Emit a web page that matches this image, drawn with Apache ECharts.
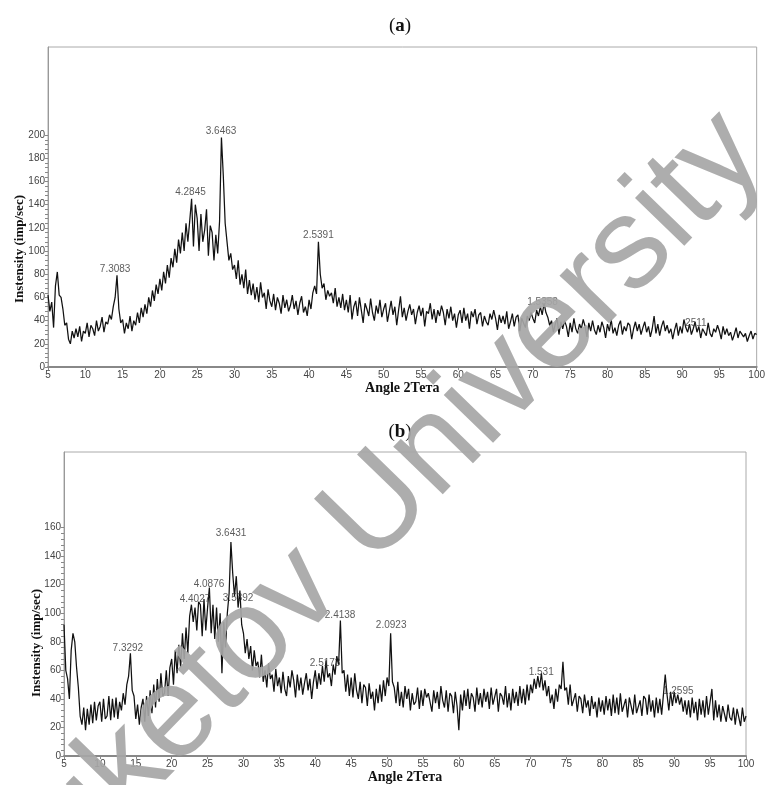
<!DOCTYPE html>
<html>
<head>
<meta charset="utf-8">
<script src="https://cdn.jsdelivr.net/npm/echarts@6/dist/echarts.min.js"></script>
<style>
  html, body { margin: 0; padding: 0; background: #fff; }
  #chart { width: 768px; height: 785px; }
</style>
</head>
<body>
<div id="chart"></div>
<script>
// scan grid: 2-theta from 5 to 100 deg, 0.25 deg step
const angleStart = 5;
const angleStep = 0.25;

// (a) intensity, 4 readings per degree, one row = 5 degrees
const intensityA = [
  62, 48, 56, 34,  70, 82, 62, 60,  50, 36, 38, 24,  20, 31, 25, 33,  26, 35, 22, 31,
  29, 38, 26, 36,  33, 27, 40, 31,  35, 43, 30, 39,  37, 45, 41, 52,  60, 79, 50, 38,
  41, 29, 38, 33,  44, 31, 40, 36,  47, 38, 51, 43,  54, 46, 60, 52,  66, 57, 71, 63,
  76, 66, 82, 72,  88, 77, 94, 86,  102, 90, 110, 98,  116, 100, 124, 108,  126, 145, 104, 140,
  128, 100, 132, 108,  118, 136, 96, 122,  116, 92, 114, 98,  126, 198, 165, 124,  124, 92, 98, 84,
  88, 76, 92, 71,  80, 68, 84, 63,  75, 62, 72, 58,  69, 56, 73, 60,  64, 50, 67, 57,
  52, 63, 49, 60,  55, 46, 62, 51,  58, 48, 53, 62,  50, 57, 45, 55,  61, 47, 52, 44,
  58, 50, 64, 70,  63, 108, 80, 68,  72, 58, 66, 61,  64, 55, 68, 52,  60, 51, 63, 49,
  58, 47, 62, 41,  52, 57, 44, 60,  49, 38, 55, 50,  44, 59, 47, 40,  53, 46, 58, 43,
  50, 55, 39, 48,  57, 45, 52, 36,  49, 61, 43, 51,  40, 48, 54, 45,  50, 37, 47, 53,
  44, 51, 35, 48,  46, 55, 41, 50,  38, 49, 44, 53,  47, 36, 50, 42,  52, 40, 46, 34,
  45, 49, 38, 51,  40, 46, 33, 48,  43, 50, 37, 45,  47, 35, 44, 39,  36, 46, 41, 49,
  42, 32, 45, 38,  44, 37, 48, 33,  39, 46, 35, 43,  45, 31, 42, 38,  34, 44, 40, 47,
  42, 38, 49, 44,  52, 45, 55, 47,  43, 36, 40, 30,  37, 42, 28, 39,  33, 40, 35, 26,
  38, 30, 42, 33,  29, 37, 33, 41,  35, 26, 38, 31,  40, 32, 28, 36,  30, 39, 34, 25,
  37, 31, 41, 29,  34, 27, 36, 40,  28, 35, 31, 38,  36, 24, 33, 39,  31, 37, 28, 34,
  39, 30, 35, 26,  33, 44, 29, 37,  27, 35, 40, 31,  36, 29, 33, 24,  32, 38, 27, 35,
  29, 41, 34, 30,  37, 28, 33, 39,  30, 35, 25, 33,  34, 27, 38, 29,  26, 33, 30, 36,
  31, 24, 35, 28,  33, 27, 30, 23,  28, 34, 25, 31,  32, 26, 29, 22,  27, 31, 24, 29,
  28
];

// (b) intensity, 4 readings per degree, one row = 5 degrees
const intensityB = [
  92, 60, 54, 40,  74, 86, 80, 62,  48, 28, 22, 34,  18, 33, 22, 36,  23, 38, 25, 35,
  38, 24, 40, 26,  28, 42, 25, 40,  27, 41, 26, 38,  32, 44, 36, 50,  56, 72, 46, 42,
  26, 36, 22, 34,  40, 24, 42, 28,  46, 30, 50, 34,  54, 38, 58, 42,  44, 60, 42, 62,
  68, 50, 74, 58,  78, 62, 86, 68,  90, 72, 98, 106,  94, 104, 88, 108,  106, 84, 110, 88,
  104, 118, 86, 106,  82, 104, 80, 100,  58, 94, 76, 100,  114, 150, 128, 112,  126, 104, 116, 92,
  86, 72, 82, 68,  77, 60, 74, 63,  66, 55, 71, 52,  60, 48, 65, 54,  57, 45, 61, 49,
  55, 44, 59, 47,  42, 56, 48, 60,  53, 41, 57, 46,  55, 43, 51, 58,  46, 54, 40, 52,
  60, 47, 58, 50,  63, 52, 67, 55,  58, 49, 64, 57,  70, 64, 95, 58,  60, 45, 57, 42,
  55, 41, 58, 46,  40, 52, 37, 50,  48, 35, 51, 40,  45, 32, 47, 37,  50, 38, 53, 42,
  55, 49, 86, 52,  48, 37, 52, 35,  45, 34, 49, 40,  47, 32, 44, 36,  38, 48, 33, 46,
  35, 47, 41, 44,  43, 31, 46, 37,  45, 33, 49, 39,  34, 46, 31, 44,  42, 30, 45, 35,
  18, 43, 32, 46,  35, 47, 33, 44,  41, 31, 48, 36,  44, 34, 47, 38,  45, 33, 48, 36,
  35, 47, 31, 44,  42, 36, 49, 34,  44, 32, 47, 37,  45, 35, 49, 37,  47, 36, 50, 39,
  50, 44, 54, 47,  56, 48, 58, 46,  53, 42, 49, 37,  43, 33, 47, 38,  50, 47, 66, 46,
  48, 36, 50, 35,  34, 44, 31, 42,  40, 30, 43, 34,  39, 28, 42, 33,  38, 27, 41, 31,
  39, 29, 42, 32,  40, 28, 43, 30,  41, 29, 44, 31,  31, 40, 27, 41,  40, 29, 43, 30,
  31, 39, 28, 42,  40, 29, 43, 31,  39, 27, 41, 30,  40, 29, 43, 57,  43, 32, 45, 35,
  45, 37, 43, 36,  41, 31, 39, 29,  39, 27, 41, 30,  38, 25, 40, 29,  39, 27, 42, 29,
  38, 47, 25, 39,  27, 36, 24, 35,  34, 24, 36, 27,  25, 34, 22, 33,  32, 21, 34, 24,
  28
];

// peak d-spacing labels, placed at (angle, intensity) of the label centre
const peakLabelsA = ["7.3083", "4.2845", "3.6463", "2.5391", "1.5358", "2511"];
const peakAnglesA = [14.0, 24.1, 28.2, 41.25, 71.3, 91.85];
const peakHeightsA = [84, 151, 203, 114, 56, 38];

const peakLabelsB = ["7.3292", "4.4027", "4.0876", "3.6431", "3.5392", "2.5173", "2.4138", "2.0923", "1.531", "1.2595"];
const peakAnglesB = [13.9, 23.25, 25.2, 28.27, 29.25, 41.37, 43.46, 50.57, 71.47, 90.56];
const peakHeightsB = [75.5, 110, 120, 156, 110.5, 65, 98.6, 91.6, 58.7, 45.5];

const yLabelsA = [0, 20, 40, 60, 80, 100, 120, 140, 160, 180, 200];
const yLabelsB = [0, 20, 40, 60, 80, 100, 120, 140, 160];

const toPairs = vals => vals.map((v, i) => [angleStart + i * angleStep, v]);
const toPeaks = (names, xs, ys) => names.map((n, i) => ({ name: n, value: [xs[i], ys[i]] }));
const minorTicks = labels => {
  const out = [];
  for (let v = 0; v <= labels[labels.length - 1]; v += 4) out.push(v);
  return out;
};

const chart = echarts.init(document.getElementById("chart"), null, { renderer: "canvas" });

const tickFont = { fontFamily: "Liberation Sans", fontSize: 10, color: "#444" };
const nameFont = { fontFamily: "Liberation Serif", fontSize: 14, fontWeight: "bold", color: "#111" };

const xAxisBase = {
  type: "value",
  min: 5,
  max: 100,
  interval: 5,
  name: "Angle 2Тета",
  nameLocation: "middle",
  nameGap: 14,
  nameTextStyle: nameFont,
  splitLine: { show: false },
  axisLine: { show: true, lineStyle: { color: "#888", width: 2 } },
  axisTick: { show: true, length: 3, lineStyle: { color: "#888" } },
  axisLabel: Object.assign({ margin: 3 }, tickFont)
};

const yAxisBase = (max, labels) => ({
  type: "value",
  min: 0,
  max: max,
  splitLine: { show: false },
  axisLine: { show: true, lineStyle: { color: "#999", width: 1 } },
  axisTick: { show: true, length: 3, customValues: minorTicks(labels), lineStyle: { color: "#888" } },
  axisLabel: Object.assign({ margin: 3, customValues: labels }, tickFont)
});

const peakSeries = (xi, data) => ({
  type: "scatter",
  xAxisIndex: xi,
  yAxisIndex: xi,
  symbolSize: 1,
  itemStyle: { color: "rgba(0,0,0,0)" },
  silent: true,
  z: 5,
  label: {
    show: true,
    position: "inside",
    formatter: "{b}",
    fontFamily: "Liberation Sans",
    fontSize: 10,
    color: "#333"
  },
  data: data
});

const option = {
  animation: false,
  backgroundColor: "#fff",
  title: [
    {
      text: "({a|a})",
      left: 395,
      top: 12,
      textAlign: "center",
      textStyle: {
        fontFamily: "Liberation Serif",
        fontSize: 19,
        fontWeight: "normal",
        color: "#111",
        rich: { a: { fontFamily: "Liberation Serif", fontSize: 19, fontWeight: "bold", color: "#111" } }
      }
    },
    {
      text: "({b|b})",
      left: 395,
      top: 418,
      textAlign: "center",
      textStyle: {
        fontFamily: "Liberation Serif",
        fontSize: 19,
        fontWeight: "normal",
        color: "#111",
        rich: { b: { fontFamily: "Liberation Serif", fontSize: 19, fontWeight: "bold", color: "#111" } }
      }
    }
  ],
  grid: [
    { left: 48, right: 5, top: 47, height: 320, show: true, borderColor: "#aaa", borderWidth: 1 },
    { left: 64, right: 22, top: 452, height: 305, show: true, borderColor: "#aaa", borderWidth: 1 }
  ],
  xAxis: [
    Object.assign({ gridIndex: 0 }, xAxisBase),
    Object.assign({ gridIndex: 1 }, xAxisBase)
  ],
  yAxis: [
    Object.assign({ gridIndex: 0 }, yAxisBase(276, yLabelsA)),
    Object.assign({ gridIndex: 1 }, yAxisBase(213, yLabelsB))
  ],
  series: [
    {
      name: "a",
      type: "line",
      xAxisIndex: 0,
      yAxisIndex: 0,
      showSymbol: false,
      sampling: null,
      lineStyle: { color: "#111", width: 1.25 },
      data: toPairs(intensityA)
    },
    {
      name: "b",
      type: "line",
      xAxisIndex: 1,
      yAxisIndex: 1,
      showSymbol: false,
      sampling: null,
      lineStyle: { color: "#111", width: 1.25 },
      data: toPairs(intensityB)
    },
    peakSeries(0, toPeaks(peakLabelsA, peakAnglesA, peakHeightsA)),
    peakSeries(1, toPeaks(peakLabelsB, peakAnglesB, peakHeightsB))
  ],
  graphic: [
    {
      type: "text",
      x: 20,
      y: 249,
      rotation: Math.PI / 2,
      style: {
        text: "Instensity (imp/sec)",
        font: "bold 13px 'Liberation Serif'",
        fill: "#111",
        align: "center",
        verticalAlign: "middle"
      }
    },
    {
      type: "text",
      x: 37,
      y: 643,
      rotation: Math.PI / 2,
      style: {
        text: "Instensity (imp/sec)",
        font: "bold 13px 'Liberation Serif'",
        fill: "#111",
        align: "center",
        verticalAlign: "middle"
      }
    },
    {
      // watermark across the whole figure
      type: "text",
      x: 368,
      y: 520,
      rotation: 0.8,
      z: 100,
      silent: true,
      style: {
        text: "Buketov University",
        font: "130px 'Liberation Sans'",
        fill: "#a6a6a6",
        opacity: 0.92,
        align: "center",
        verticalAlign: "middle"
      }
    }
  ]
};

chart.setOption(option);
</script>
</body>
</html>
